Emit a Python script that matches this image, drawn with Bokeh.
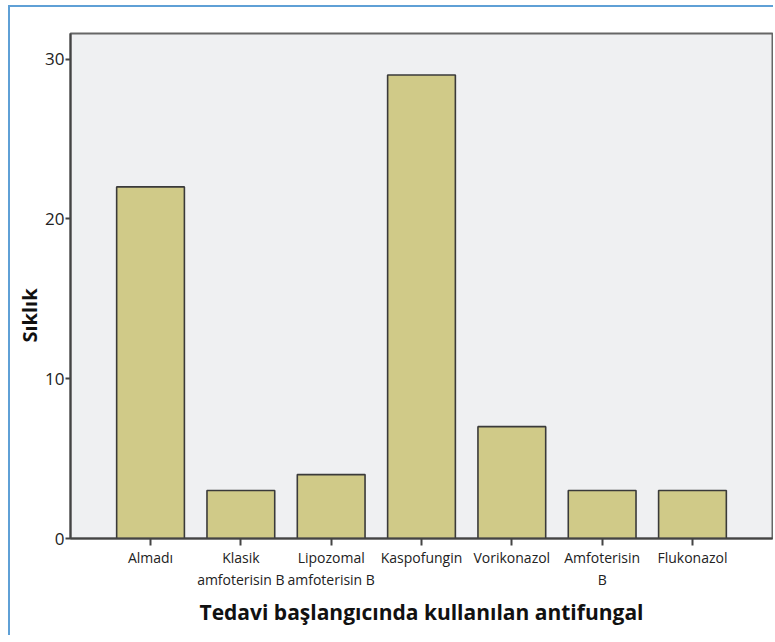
from bokeh.plotting import figure
from bokeh.models import Range1d, FixedTicker, ColumnDataSource, Title
from bokeh.embed import file_html
from bokeh.resources import INLINE

categories = ["Almadı", "Klasik\namfoterisin B", "Lipozomal\namfoterisin B",
              "Kaspofungin", "Vorikonazol", "Amfoterisin\nB", "Flukonazol"]
counts = [22, 3, 4, 29, 7, 3, 3]
y_ticks = [0, 10, 20, 30]

xs = list(range(1, len(categories) + 1))
src = ColumnDataSource(dict(x=xs, top=counts))

FONT = "Open Sans"

p = figure(width=765, height=630, output_backend="svg", toolbar_location=None,
           x_range=Range1d(0.114, len(categories) + 0.886), y_range=Range1d(0, 31.6),
           min_border_left=60, min_border_top=26, min_border_right=3, min_border_bottom=99,
           background_fill_color="#eff0f2", border_fill_color="white")

p.vbar(x="x", top="top", bottom=0, width=0.75, source=src,
       fill_color="#d0ca88", line_color="#3a3a3a", line_width=1.6)

p.outline_line_color = "#666666"
p.outline_line_width = 2
p.grid.visible = False

p.xaxis.ticker = FixedTicker(ticks=xs)
p.xaxis.major_label_overrides = {x: lab for x, lab in zip(xs, categories)}
p.yaxis.ticker = FixedTicker(ticks=y_ticks)

for ax in (p.xaxis[0], p.yaxis[0]):
    ax.axis_line_color = "#444444"
    ax.axis_line_width = 2
    ax.major_tick_line_color = "#444444"
    ax.major_tick_line_width = 2
    ax.minor_tick_line_color = None
    ax.major_tick_in = 0
    ax.major_label_text_font = FONT
    ax.major_label_text_color = "#222222"
    ax.axis_label_text_font = FONT
    ax.axis_label_text_font_style = "bold"
    ax.axis_label_text_color = "#111111"

p.xaxis.major_tick_out = 7
p.xaxis.major_label_text_font_size = "14px"
p.xaxis.major_label_standoff = 2
p.xaxis.axis_label = "Tedavi başlangıcında kullanılan antifungal"
p.xaxis.axis_label_text_font_size = "21px"
p.xaxis.axis_label_standoff = 6

p.yaxis.major_tick_out = 5
p.yaxis.major_label_text_font_size = "17px"
p.yaxis.major_label_standoff = 1

ytitle = Title(text="Sıklık", align="left", offset=196, standoff=0,
               text_font=FONT, text_font_style="bold", text_font_size="20px",
               text_color="#111111")
p.add_layout(ytitle, "left")

p.styles = {"margin-left": "8px", "margin-top": "5px",
            "border-left": "2px solid #5fa0d6", "border-top": "2px solid #5fa0d6"}

open("out.html", "w").write(file_html(p, INLINE))
